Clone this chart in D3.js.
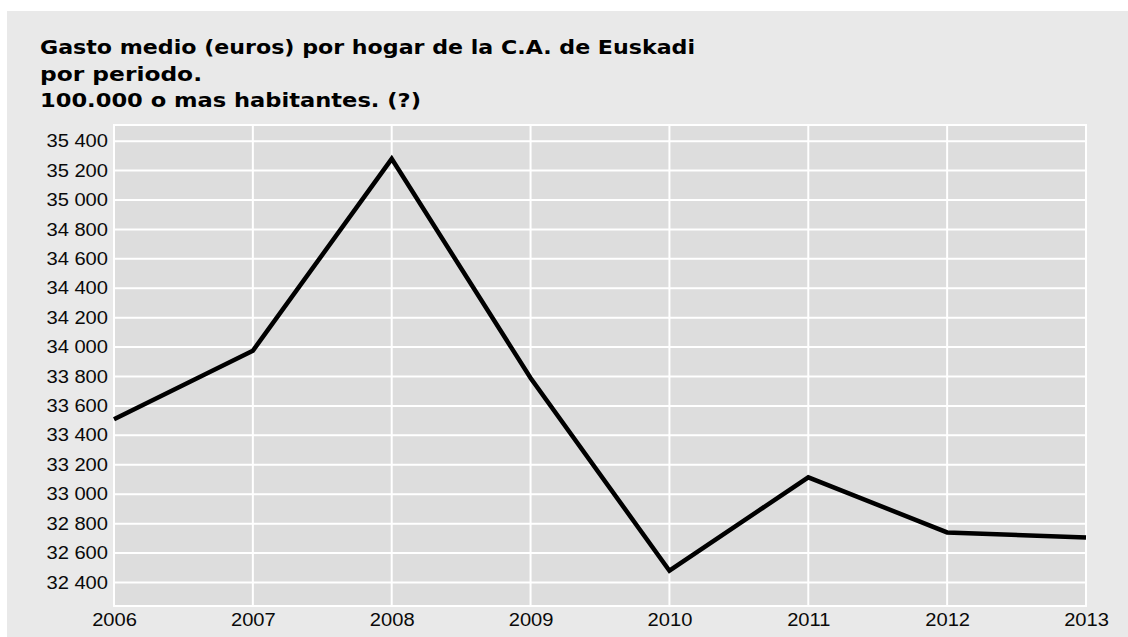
<!DOCTYPE html>
<html>
<head>
<meta charset="utf-8">
<script src="https://cdn.jsdelivr.net/npm/d3@7"></script>
<style>
    body { margin: 0; background: #ffffff; }
    svg { display: block; }
</style>
</head>
<body>
<div id="chartContainer"></div>
<script>
///////////// Data /////////////////

const years = ["2006", "2007", "2008", "2009", "2010", "2011", "2012", "2013"];
const gastoMedio = [33510, 33975, 35280, 33790, 32480, 33115, 32740, 32705];
const yTicks = [32400, 32600, 32800, 33000, 33200, 33400, 33600, 33800, 34000,
    34200, 34400, 34600, 34800, 35000, 35200, 35400];
const titleLines = [
    "Gasto medio (euros) por hogar de la C.A. de Euskadi",
    "por periodo.",
    "100.000 o mas habitantes. (?)"
];

///////////// Layout /////////////////

const width = 1128;
const height = 637;
const margin = { top: 125, right: 42, bottom: 31, left: 114 };
const plotW = width - margin.left - margin.right;
const plotH = height - margin.top - margin.bottom;

let svg = d3
    .select("#chartContainer")
    .append("svg")
    .attr("width", width)
    .attr("height", height);

//outer grey panel
svg.append("rect")
    .attr("x", 7)
    .attr("y", 11)
    .attr("width", width - 7)
    .attr("height", height - 11)
    .style("fill", "#e9e9e9");

//title, three bold lines
const titleWidths = [655, 162, 381];
titleLines.forEach((t, i) => {
    let txt = svg.append("text")
        .attr("x", 40)
        .attr("y", 54 + i * 26.5)
        .text(t)
        .style("font-family", "'DejaVu Sans', Verdana, sans-serif")
        .style("font-weight", "bold")
        .style("font-size", "19.5px")
        .style("fill", "#000");
    txt.attr("textLength", titleWidths[i]).attr("lengthAdjust", "spacingAndGlyphs");
});

let chart = svg.append("g")
    .attr("transform", `translate(${margin.left},${margin.top})`);

//scales
let x = d3.scalePoint().domain(years).range([0, plotW]);
let y = d3.scaleLinear().domain([32240, 35510]).range([plotH, 0]);

//plot background
chart.append("rect")
    .attr("width", plotW)
    .attr("height", plotH)
    .style("fill", "#dddddd")
    .style("stroke", "#ffffff")
    .style("stroke-width", 2);

//horizontal grid
chart.append("g")
    .selectAll("line")
    .data(yTicks)
    .enter()
    .append("line")
    .attr("x1", 0)
    .attr("x2", plotW)
    .attr("y1", d => y(d))
    .attr("y2", d => y(d))
    .style("stroke", "#ffffff")
    .style("stroke-width", 2);

//vertical grid
chart.append("g")
    .selectAll("line")
    .data(years)
    .enter()
    .append("line")
    .attr("x1", d => x(d))
    .attr("x2", d => x(d))
    .attr("y1", 0)
    .attr("y2", plotH)
    .style("stroke", "#ffffff")
    .style("stroke-width", 2);

//axes (labels only, no domain line or ticks)
const fmt = d => d3.format(",")(d).replace(",", " ");
let yAxis = chart.append("g")
    .call(d3.axisLeft(y).tickValues(yTicks).tickFormat(fmt).tickSize(0).tickPadding(6));
let xAxis = chart.append("g")
    .attr("transform", `translate(0,${plotH})`)
    .call(d3.axisBottom(x).tickSize(0).tickPadding(8));

[yAxis, xAxis].forEach(ax => {
    ax.select(".domain").remove();
    ax.selectAll("text")
        .style("font-family", "'Liberation Sans', Arial, sans-serif")
        .style("font-size", "17.5px")
        .style("fill", "#0a0a0a");
    //the reference glyphs are a bit wider than Arial
    ax.selectAll("text").each(function () {
        let w = this.getComputedTextLength();
        d3.select(this).attr("textLength", w * 1.15).attr("lengthAdjust", "spacingAndGlyphs");
    });
});

//the line itself
let line = d3.line()
    .x((d, i) => x(years[i]))
    .y(d => y(d));

chart.append("path")
    .datum(gastoMedio)
    .attr("d", line)
    .style("fill", "none")
    .style("stroke", "#000000")
    .style("stroke-width", 4.5)
    .style("stroke-linejoin", "miter");
</script>
</body>
</html>
